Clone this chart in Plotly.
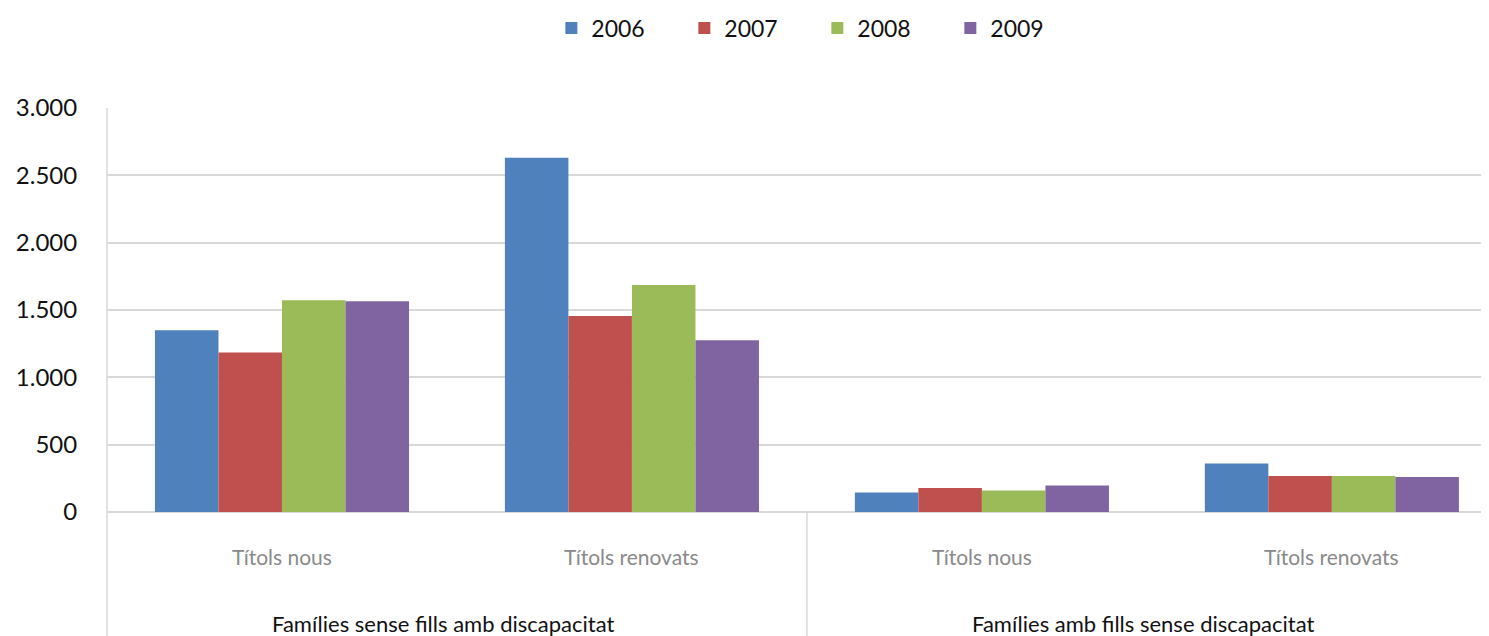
import plotly.graph_objects as go

groups = ["Famílies sense fills amb discapacitat", "Famílies amb fills sense discapacitat"]
subcats = ["Títols nous", "Títols renovats", "Títols nous", "Títols renovats"]
years = ["2006", "2007", "2008", "2009"]
colors = ["#4f81bd", "#c0504d", "#9bbb59", "#8064a2"]

v2006 = [1350, 2630, 145, 360]
v2007 = [1185, 1455, 178, 267]
v2008 = [1572, 1685, 160, 267]
v2009 = [1565, 1275, 197, 259]
series = [v2006, v2007, v2008, v2009]

xcats = ["c0", "c1", "c2", "c3"]

fig = go.Figure()
for name, vals, col in zip(years, series, colors):
    fig.add_trace(go.Bar(x=xcats, y=vals, name=name, marker=dict(color=col, line=dict(width=0))))

# figure is offset 8px by page body margin
W, H = 1481, 628
L, T = 99, 100
PH = 404
B = H - T - PH

ann = []
for i, lab in enumerate(subcats):
    ann.append(dict(x=i, y=-(556 - 512) / PH, xref="x", yref="paper", text=lab, showarrow=False,
                    font=dict(family="Lato", size=21, color="#8a8a8a"), yanchor="middle"))
for gi, g in enumerate(groups):
    ann.append(dict(x=gi * 2 + 0.5, y=-(623 - 512) / PH, xref="x", yref="paper", text=g, showarrow=False,
                    xshift=-14,
                    font=dict(family="Lato", size=22, color="#111111"), yanchor="middle"))

shapes = [
    dict(type="line", xref="paper", yref="paper", x0=0, x1=0, y0=-B / PH - 0.05, y1=1,
         line=dict(color="#d9d9d9", width=1.5)),
    dict(type="line", xref="x", yref="paper", x0=1.5, x1=1.5, y0=-B / PH - 0.05, y1=0,
         line=dict(color="#d9d9d9", width=1.5)),
]

fig.update_layout(
    width=W, height=H,
    margin=dict(l=L, r=0, t=T, b=B),
    paper_bgcolor="white", plot_bgcolor="white",
    barmode="group", bargap=0.274, bargroupgap=0,
    separators=",.",
    font=dict(family="Lato", size=23, color="#111111"),
    legend=dict(orientation="h", x=0.514, xanchor="center", y=1 - 20 / H, yanchor="middle",
                yref="container", font=dict(size=23), traceorder="normal",
                entrywidth=88),
    annotations=ann, shapes=shapes,
    xaxis=dict(showticklabels=False, range=[-0.5, 3.449], showgrid=False, zeroline=False,
               showline=False, ticks=""),
    yaxis=dict(range=[0, 3000], dtick=500, tickformat=",d", gridcolor="#d9d9d9", gridwidth=1.5,
               zeroline=True, zerolinecolor="#d9d9d9", zerolinewidth=1.5, showline=False,
               ticks="outside", ticklen=24, tickcolor="white",
               tickfont=dict(size=24, color="#111111")),
)
fig.write_html("out.html")
